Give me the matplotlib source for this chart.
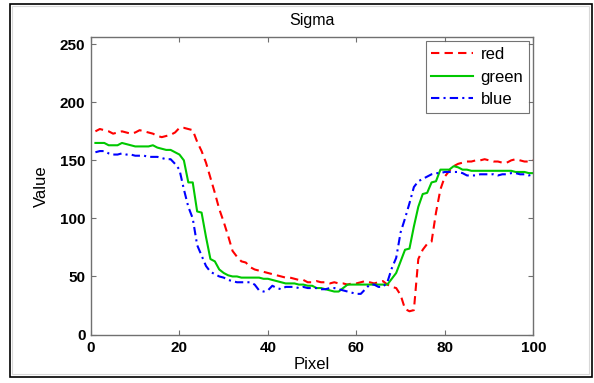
import numpy as np
import matplotlib
matplotlib.use("Agg")
import matplotlib.pyplot as plt
from matplotlib.patches import Rectangle

pixels = list(range(1, 101))

red = [175, 177, 176, 175, 173, 174, 175, 174, 173, 174,
       176, 175, 174, 173, 171, 170, 171, 172, 174, 178,
       178, 177, 176, 166, 158, 148, 135, 122, 108, 97,
       85, 72, 67, 63, 62, 58, 56, 55, 54, 53,
       52, 51, 50, 49, 49, 48, 47, 47, 45, 45,
       46, 45, 45, 44, 45, 44, 44, 43, 44, 44,
       45, 46, 45, 44, 45, 46, 43, 41, 40, 34,
       22, 20, 21, 65, 73, 78, 80, 105, 125, 136,
       141, 145, 147, 148, 149, 149, 150, 150, 151, 150,
       149, 149, 148, 148, 150, 151, 150, 149, 149, 150]

green = [165, 165, 165, 163, 163, 163, 165, 164, 163, 162,
         162, 162, 162, 163, 161, 160, 159, 159, 157, 155,
         150, 131, 131, 106, 105, 84, 65, 63, 56, 53,
         51, 50, 50, 49, 49, 49, 49, 49, 48, 48,
         47, 46, 45, 44, 44, 44, 43, 43, 42, 42,
         40, 40, 39, 38, 37, 37, 40, 43, 43, 43,
         43, 43, 43, 43, 43, 43, 43, 48, 53, 63,
         73, 74, 93, 110, 121, 122, 131, 132, 142, 142,
         142, 145, 144, 142, 142, 141, 141, 141, 141, 141,
         141, 141, 141, 141, 141, 140, 140, 140, 139, 139]

blue = [157, 158, 158, 156, 155, 155, 156, 155, 155, 154,
        154, 154, 153, 153, 153, 152, 151, 151, 147, 142,
        125, 110, 100, 77, 68, 59, 54, 52, 50, 49,
        47, 46, 45, 45, 45, 45, 43, 38, 37, 38,
        42, 40, 39, 41, 41, 41, 40, 41, 40, 40,
        40, 39, 39, 40, 40, 39, 38, 37, 36, 35,
        35, 39, 43, 43, 41, 41, 45, 57, 66, 88,
        100, 113, 127, 132, 134, 136, 138, 139, 139, 140,
        140, 140, 140, 139, 137, 137, 137, 138, 138, 138,
        138, 137, 138, 138, 139, 139, 138, 138, 137, 138]

x_ticks = [0, 20, 40, 60, 80, 100]
y_ticks = [0, 50, 100, 150, 200, 250]

plt.rcParams['font.family'] = ['Liberation Sans', 'DejaVu Sans']

W, H = 594, 383
fig = plt.figure(figsize=(W / 100, H / 100), dpi=100)
fig.patch.set_facecolor('white')

# figure frame
fig.add_artist(Rectangle((10 / W, 1 - 377 / H), (592 - 10) / W, (377 - 4) / H,
                         transform=fig.transFigure, fill=False,
                         edgecolor='black', linewidth=1.2))
fig.add_artist(Rectangle((12 / W, 1 - 374 / H), (589 - 12) / W, (374 - 6) / H,
                         transform=fig.transFigure, fill=False,
                         edgecolor='#d8d8d8', linewidth=0.8))

ax = fig.add_axes([91 / W, 1 - 334.5 / H, (533.3 - 91) / W, (334.5 - 37.3) / H])

ax.plot(pixels, red, color='#ff0000', linestyle=(0, (4, 2.5)), linewidth=1.5, label='red')
ax.plot(pixels, green, color='#00c800', linestyle='-', linewidth=1.5, label='green')
ax.plot(pixels, blue, color='#0000ff', linestyle=(0, (4, 2, 1, 2)), linewidth=1.5, label='blue')

ax.set_xlim(0, 100)
ax.set_ylim(0, 256)
ax.set_xticks(x_ticks)
ax.set_yticks(y_ticks)
ax.set_xticklabels([str(v) for v in x_ticks], fontsize=11, fontweight='bold')
ax.set_yticklabels([str(v) for v in y_ticks], fontsize=11, fontweight='bold')
ax.tick_params(direction='in', length=3.5, width=0.8, color='#707070',
               top=True, right=True)
ax.tick_params(axis='x', pad=5)
ax.tick_params(axis='y', pad=4)
for s in ax.spines.values():
    s.set_color('#707070')
    s.set_linewidth(1.0)

ax.set_title('Sigma', fontsize=11.5, pad=9)
ax.set_xlabel('Pixel', fontsize=12, labelpad=1)
ax.set_ylabel('Value', fontsize=12, labelpad=8)

leg = ax.legend(loc='upper right', fontsize=12, frameon=True, fancybox=False,
                edgecolor='#505050', borderpad=0.35, handlelength=2.5,
                handletextpad=0.45, labelspacing=0.45, borderaxespad=0.25)
leg.get_frame().set_linewidth(0.8)

fig.savefig('out.png', dpi=100, facecolor='white')
